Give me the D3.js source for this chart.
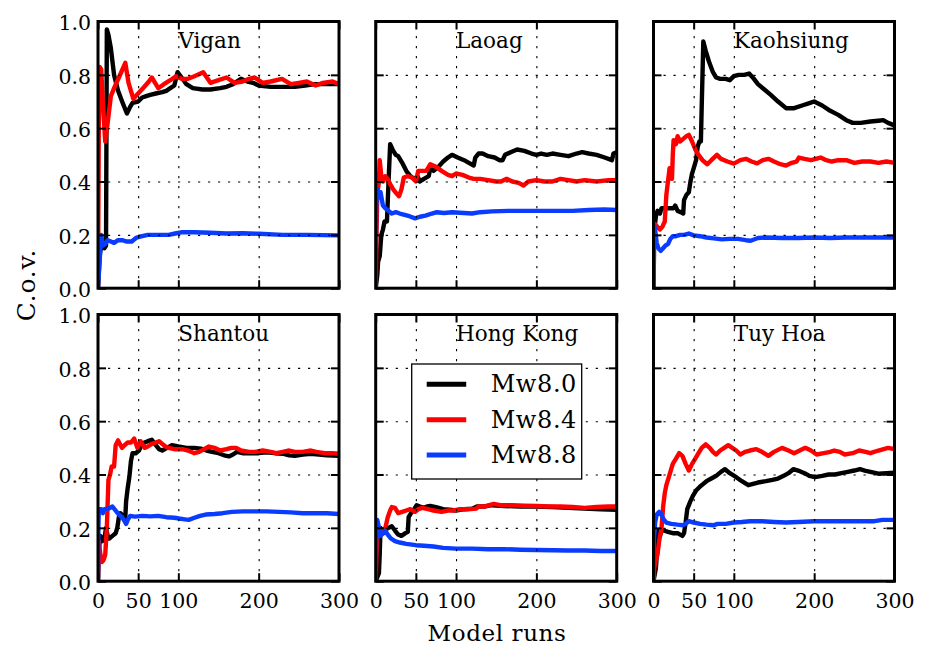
<!DOCTYPE html>
<html>
<head>
<meta charset="utf-8">
<script src="https://cdn.jsdelivr.net/npm/d3@7"></script>
<style>
  html, body { margin: 0; padding: 0; background: #fff; }
  svg { display: block; }
  text { font-family: "DejaVu Serif", serif; fill: #000; }
</style>
</head>
<body>
<svg id="chart" width="925" height="647"></svg>
<script>
// Stations, magnitudes and tick values
const stations = ["Vigan", "Laoag", "Kaohsiung", "Shantou", "Hong Kong", "Tuy Hoa"];
const magnitudes = ["Mw8.0", "Mw8.4", "Mw8.8"];
const xTicks = [0, 50, 100, 200, 300];
const yTicks = [0, 0.2, 0.4, 0.6, 0.8, 1.0];
const xGrid = [50, 100, 200];
const yGrid = [0.2, 0.4, 0.6, 0.8];

// Coefficient of variation vs. number of model runs: [run, c.o.v.]
const viganMw80 = [[0,0],[2,0.12],[4,0.16],[8,0.15],[10,0.16],[11,0.97],[13,0.95],[16,0.9],[20,0.8],[25,0.74],[30,0.7],[36,0.655],[40,0.68],[43,0.695],[50,0.7],[55,0.715],[60,0.72],[65,0.725],[72,0.73],[80,0.735],[85,0.74],[90,0.75],[95,0.76],[99,0.81],[104,0.79],[110,0.765],[118,0.75],[130,0.745],[140,0.745],[152,0.75],[160,0.755],[168,0.765],[178,0.785],[186,0.775],[193,0.77],[200,0.76],[215,0.755],[230,0.755],[245,0.755],[258,0.76],[270,0.765],[285,0.765],[300,0.765]];
const viganMw84 = [[0,0],[1,0.6],[2,0.83],[4,0.82],[6,0.7],[9,0.55],[12,0.62],[16,0.72],[20,0.75],[26,0.79],[34,0.845],[38,0.77],[44,0.71],[50,0.73],[56,0.75],[62,0.77],[67,0.79],[72,0.765],[75,0.75],[82,0.765],[90,0.78],[97,0.795],[104,0.785],[112,0.785],[120,0.795],[131,0.81],[140,0.77],[150,0.78],[160,0.79],[170,0.77],[180,0.775],[188,0.785],[195,0.79],[205,0.77],[215,0.775],[229,0.785],[240,0.765],[250,0.77],[260,0.775],[271,0.76],[280,0.77],[292,0.775],[300,0.765]];
const viganMw88 = [[0,0],[2,0.1],[4,0.2],[6,0.16],[9,0.165],[12,0.18],[16,0.175],[20,0.17],[25,0.18],[30,0.18],[36,0.175],[42,0.175],[48,0.19],[55,0.195],[62,0.2],[75,0.2],[88,0.2],[96,0.205],[105,0.21],[120,0.21],[140,0.208],[160,0.205],[180,0.206],[200,0.204],[230,0.2],[260,0.2],[280,0.199],[300,0.198]];

const laoagMw80 = [[0,0],[2,0.05],[3,0.1],[5,0.12],[7,0.2],[9,0.22],[11,0.25],[14,0.25],[16,0.4],[18,0.54],[21,0.52],[25,0.5],[28,0.495],[33,0.47],[38,0.44],[43,0.42],[48,0.41],[52,0.42],[55,0.4],[60,0.41],[66,0.42],[68,0.45],[72,0.44],[78,0.455],[84,0.475],[90,0.49],[95,0.5],[102,0.49],[110,0.48],[116,0.47],[122,0.46],[124,0.49],[128,0.505],[133,0.505],[140,0.495],[148,0.49],[154,0.48],[158,0.48],[161,0.5],[168,0.51],[176,0.52],[185,0.515],[194,0.505],[200,0.5],[206,0.505],[213,0.5],[220,0.505],[230,0.5],[240,0.495],[250,0.505],[257,0.51],[265,0.505],[275,0.5],[285,0.49],[294,0.48],[296,0.505],[300,0.51]];
const laoagMw84 = [[0,0],[1,0.2],[2,0.35],[4,0.4],[5,0.48],[7,0.42],[9,0.4],[12,0.42],[15,0.41],[18,0.39],[22,0.37],[26,0.355],[29,0.345],[32,0.37],[35,0.415],[40,0.42],[45,0.415],[50,0.4],[53,0.44],[58,0.44],[63,0.44],[68,0.465],[75,0.455],[82,0.44],[90,0.425],[95,0.42],[100,0.43],[108,0.425],[116,0.415],[122,0.41],[130,0.41],[140,0.405],[150,0.4],[156,0.4],[163,0.41],[170,0.4],[178,0.395],[184,0.385],[190,0.4],[200,0.405],[210,0.4],[220,0.4],[230,0.41],[240,0.405],[250,0.4],[260,0.405],[275,0.4],[290,0.405],[300,0.405]];
const laoagMw88 = [[0,0],[0.5,0.3],[2,0.37],[4,0.34],[6,0.36],[9,0.31],[12,0.3],[16,0.29],[20,0.28],[25,0.285],[30,0.28],[36,0.275],[42,0.27],[49,0.262],[55,0.268],[62,0.272],[70,0.28],[76,0.285],[85,0.282],[95,0.285],[110,0.282],[120,0.28],[130,0.285],[145,0.288],[165,0.29],[185,0.29],[205,0.29],[225,0.29],[245,0.29],[265,0.293],[285,0.295],[300,0.293]];

const kaohsiungMw80 = [[0,0],[1,0.22],[3,0.27],[5,0.29],[8,0.28],[10,0.3],[15,0.3],[20,0.3],[25,0.3],[27,0.31],[30,0.29],[34,0.285],[37,0.28],[38,0.33],[41,0.35],[44,0.36],[46,0.4],[48,0.43],[51,0.46],[53,0.48],[55,0.53],[57,0.55],[59,0.55],[60,0.68],[61,0.8],[62,0.925],[65,0.89],[69,0.85],[74,0.81],[78,0.79],[83,0.785],[90,0.785],[95,0.78],[100,0.795],[106,0.8],[113,0.8],[119,0.805],[125,0.785],[130,0.765],[138,0.745],[146,0.725],[155,0.7],[165,0.675],[175,0.675],[185,0.685],[195,0.695],[200,0.7],[210,0.685],[220,0.665],[230,0.65],[240,0.63],[248,0.62],[258,0.62],[270,0.625],[280,0.628],[286,0.63],[292,0.62],[300,0.61]];
const kaohsiungMw84 = [[0,0],[0.5,0.22],[2,0.24],[5,0.23],[8,0.22],[11,0.23],[14,0.25],[16,0.35],[18,0.4],[20,0.45],[22,0.42],[23,0.41],[24,0.5],[25,0.555],[28,0.54],[30,0.57],[33,0.55],[37,0.56],[41,0.57],[44,0.575],[48,0.55],[52,0.52],[56,0.5],[61,0.48],[67,0.465],[72,0.48],[79,0.5],[84,0.485],[92,0.475],[100,0.467],[108,0.48],[115,0.485],[122,0.475],[129,0.468],[136,0.48],[143,0.485],[150,0.475],[158,0.465],[165,0.46],[172,0.47],[178,0.475],[181,0.49],[188,0.485],[196,0.48],[202,0.485],[208,0.49],[215,0.48],[222,0.475],[230,0.48],[240,0.48],[250,0.47],[260,0.475],[270,0.475],[280,0.47],[290,0.475],[300,0.47]];
const kaohsiungMw88 = [[0,0],[0.5,0.24],[2,0.22],[4,0.17],[6,0.15],[9,0.14],[12,0.15],[15,0.16],[18,0.165],[21,0.185],[24,0.195],[28,0.195],[33,0.2],[38,0.2],[44,0.205],[50,0.198],[58,0.195],[66,0.19],[75,0.187],[85,0.183],[95,0.185],[105,0.185],[115,0.18],[121,0.178],[130,0.188],[140,0.19],[160,0.188],[180,0.188],[200,0.19],[220,0.188],[240,0.19],[260,0.19],[280,0.19],[300,0.19]];

const shantouMw80 = [[0,0],[1,0.12],[3,0.17],[5,0.15],[8,0.16],[10,0.2],[12,0.17],[14,0.16],[18,0.17],[22,0.18],[24,0.2],[26,0.24],[28,0.255],[31,0.245],[34,0.24],[35,0.3],[37,0.35],[39,0.39],[41,0.45],[43,0.48],[47,0.48],[51,0.49],[54,0.51],[58,0.52],[62,0.525],[67,0.53],[72,0.51],[76,0.495],[80,0.49],[86,0.5],[92,0.51],[100,0.505],[110,0.5],[120,0.5],[128,0.497],[135,0.49],[142,0.485],[150,0.48],[157,0.472],[163,0.468],[168,0.475],[173,0.485],[180,0.48],[190,0.48],[200,0.48],[210,0.483],[220,0.48],[230,0.478],[238,0.472],[245,0.47],[255,0.475],[265,0.478],[275,0.475],[285,0.472],[300,0.47]];
const shantouMw84 = [[0,0],[1,0.15],[3,0.1],[5,0.072],[7,0.08],[9,0.1],[11,0.2],[13,0.38],[15,0.4],[17,0.43],[20,0.43],[22,0.51],[25,0.528],[28,0.51],[30,0.5],[33,0.51],[37,0.52],[41,0.52],[45,0.535],[49,0.5],[53,0.525],[58,0.5],[62,0.505],[67,0.515],[72,0.52],[76,0.525],[80,0.515],[84,0.505],[88,0.5],[95,0.495],[105,0.495],[112,0.49],[120,0.48],[126,0.485],[132,0.495],[138,0.505],[145,0.5],[152,0.49],[160,0.495],[166,0.5],[172,0.5],[178,0.49],[188,0.485],[196,0.485],[205,0.49],[215,0.485],[222,0.48],[230,0.485],[238,0.49],[245,0.485],[255,0.485],[265,0.49],[272,0.485],[282,0.48],[292,0.48],[300,0.478]];
const shantouMw88 = [[0,0],[0.5,0.2],[1,0.27],[4,0.27],[6,0.255],[8,0.27],[12,0.272],[15,0.275],[18,0.28],[22,0.265],[26,0.25],[30,0.24],[33,0.225],[35,0.215],[37,0.23],[40,0.245],[46,0.242],[55,0.245],[65,0.243],[75,0.245],[85,0.24],[95,0.238],[101,0.235],[108,0.232],[113,0.23],[120,0.238],[127,0.245],[134,0.25],[145,0.252],[155,0.255],[167,0.26],[180,0.262],[195,0.262],[210,0.262],[225,0.26],[240,0.258],[255,0.255],[270,0.255],[285,0.255],[300,0.252]];

const hongKongMw80 = [[0,0],[4,0.03],[5,0.1],[6,0.2],[8,0.19],[10,0.18],[13,0.195],[16,0.2],[20,0.206],[24,0.19],[28,0.175],[32,0.17],[37,0.18],[40,0.185],[41,0.24],[44,0.255],[48,0.27],[51,0.285],[55,0.28],[60,0.275],[64,0.28],[68,0.282],[75,0.278],[84,0.27],[92,0.268],[100,0.265],[110,0.27],[120,0.272],[126,0.28],[135,0.28],[145,0.285],[160,0.282],[180,0.28],[200,0.28],[220,0.278],[240,0.275],[260,0.272],[280,0.27],[300,0.268]];
const hongKongMw84 = [[0,0],[1,0.1],[3,0.21],[5,0.17],[8,0.19],[12,0.2],[15,0.24],[18,0.265],[20,0.278],[24,0.275],[28,0.255],[33,0.26],[38,0.265],[43,0.27],[49,0.26],[53,0.27],[58,0.275],[65,0.27],[72,0.265],[82,0.26],[90,0.265],[97,0.265],[105,0.27],[115,0.27],[125,0.272],[128,0.28],[135,0.28],[147,0.29],[155,0.285],[170,0.285],[185,0.283],[200,0.282],[215,0.28],[230,0.28],[245,0.278],[260,0.275],[275,0.278],[290,0.28],[300,0.28]];
const hongKongMw88 = [[0,0],[0.5,0.15],[2,0.23],[4,0.2],[6,0.17],[9,0.18],[12,0.19],[15,0.175],[19,0.16],[24,0.15],[30,0.145],[38,0.14],[50,0.135],[60,0.133],[72,0.13],[84,0.125],[100,0.122],[120,0.122],[140,0.12],[160,0.12],[180,0.118],[200,0.117],[220,0.116],[240,0.115],[260,0.115],[280,0.113],[300,0.113]];

const tuyHoaMw80 = [[0,0],[3,0.05],[5,0.14],[6,0.19],[8,0.17],[10,0.19],[13,0.19],[18,0.185],[24,0.18],[30,0.18],[36,0.17],[38,0.18],[40,0.22],[42,0.27],[46,0.3],[49,0.32],[53,0.34],[58,0.355],[62,0.365],[66,0.375],[72,0.385],[78,0.395],[84,0.41],[89,0.42],[95,0.405],[103,0.39],[110,0.375],[118,0.36],[124,0.365],[130,0.37],[140,0.375],[148,0.38],[155,0.385],[162,0.395],[168,0.405],[174,0.42],[180,0.415],[188,0.405],[194,0.395],[201,0.39],[210,0.395],[218,0.4],[226,0.4],[234,0.405],[242,0.41],[250,0.415],[257,0.42],[263,0.415],[270,0.41],[280,0.403],[290,0.405],[300,0.407]];
const tuyHoaMw84 = [[0,0],[1,0.05],[3,0.08],[5,0.1],[7,0.15],[10,0.2],[12,0.28],[14,0.33],[16,0.36],[20,0.4],[24,0.44],[28,0.46],[32,0.48],[36,0.47],[40,0.44],[44,0.415],[48,0.44],[52,0.46],[56,0.48],[60,0.5],[65,0.513],[70,0.5],[74,0.485],[78,0.475],[83,0.49],[88,0.5],[93,0.51],[98,0.5],[103,0.49],[108,0.475],[114,0.485],[120,0.49],[128,0.495],[135,0.485],[143,0.47],[150,0.485],[160,0.5],[168,0.49],[175,0.48],[182,0.49],[189,0.5],[196,0.49],[203,0.475],[212,0.48],[220,0.485],[225,0.49],[232,0.485],[238,0.475],[248,0.48],[256,0.49],[264,0.485],[270,0.48],[280,0.49],[292,0.5],[300,0.495]];
const tuyHoaMw88 = [[0,0],[0.5,0.15],[2,0.22],[4,0.25],[7,0.26],[9,0.255],[12,0.235],[16,0.22],[22,0.215],[30,0.212],[37,0.21],[40,0.215],[44,0.225],[50,0.22],[58,0.215],[66,0.212],[75,0.21],[80,0.215],[90,0.215],[100,0.22],[110,0.222],[120,0.225],[135,0.225],[150,0.222],[165,0.22],[180,0.222],[200,0.225],[220,0.225],[240,0.225],[260,0.225],[275,0.225],[285,0.23],[300,0.23]];

// Series per station, in magnitude order (drawn black, red, blue)
const seriesByStation = {
  "Vigan": [viganMw80, viganMw84, viganMw88],
  "Laoag": [laoagMw80, laoagMw84, laoagMw88],
  "Kaohsiung": [kaohsiungMw80, kaohsiungMw84, kaohsiungMw88],
  "Shantou": [shantouMw80, shantouMw84, shantouMw88],
  "Hong Kong": [hongKongMw80, hongKongMw84, hongKongMw88],
  "Tuy Hoa": [tuyHoaMw80, tuyHoaMw84, tuyHoaMw88]
};

// ---- layout and styling ----
const colors = ["#000000", "#ff0000", "#0a3cff"];
const colLeft = [98, 375.7, 653.5];
const rowTop = [21.5, 314.5];
const pw = 241, ph = 266.7;
const lineW = 4.4;

const svg = d3.select("#chart");
const x = d3.scaleLinear().domain([0, 300]).range([0, pw]);
const y = d3.scaleLinear().domain([0, 1]).range([ph, 0]);
const line = d3.line().x(d => x(d[0])).y(d => y(d[1]));

const defs = svg.append("defs");
defs.append("clipPath").attr("id", "panel-clip")
  .append("rect").attr("x", 0).attr("y", 0).attr("width", pw).attr("height", ph);

stations.forEach((name, i) => {
  const row = Math.floor(i / 3), col = i % 3;
  const g = svg.append("g").attr("transform", `translate(${colLeft[col]},${rowTop[row]})`);

  // data curves
  const lines = g.append("g").attr("clip-path", "url(#panel-clip)");
  seriesByStation[name].forEach((pts, k) => {
    lines.append("path")
      .attr("d", line(pts))
      .attr("fill", "none")
      .attr("stroke", colors[k])
      .attr("stroke-width", lineW)
      .attr("stroke-linejoin", "round")
      .attr("stroke-linecap", "butt");
  });

  // dotted grid
  const gridX = g.append("g").attr("transform", `translate(0,${ph})`)
    .call(d3.axisBottom(x).tickValues(xGrid).tickSize(-ph).tickFormat(""));
  const gridY = g.append("g")
    .call(d3.axisLeft(y).tickValues(yGrid).tickSize(-pw).tickFormat(""));
  [gridX, gridY].forEach(a => {
    a.select(".domain").remove();
    a.selectAll("line").attr("stroke", "#000").attr("stroke-width", 1.1)
      .attr("stroke-dasharray", "2.2,7.8");
  });

  // inward ticks on all four sides
  const bottom = g.append("g").attr("transform", `translate(0,${ph})`)
    .call(d3.axisBottom(x).tickValues(xTicks).tickSize(-8).tickPadding(12.4)
      .tickFormat(row === 1 ? d3.format("d") : ""));
  const top = g.append("g")
    .call(d3.axisTop(x).tickValues(xTicks).tickSize(-8).tickFormat(""));
  const left = g.append("g")
    .call(d3.axisLeft(y).tickValues(yTicks).tickSize(-8).tickPadding(7)
      .tickFormat(col === 0 ? d3.format(".1f") : ""));
  const right = g.append("g").attr("transform", `translate(${pw},0)`)
    .call(d3.axisRight(y).tickValues(yTicks).tickSize(-8).tickFormat(""));
  [bottom, top, left, right].forEach(a => {
    a.select(".domain").remove();
    a.selectAll("line").attr("stroke", "#000").attr("stroke-width", 2);
    a.selectAll("text").attr("font-family", "DejaVu Serif").attr("font-size", 20.5).attr("fill", "#000");
  });
  left.selectAll("text").attr("dy", "0.4em");

  // frame
  g.append("rect").attr("x", 0).attr("y", 0).attr("width", pw).attr("height", ph)
    .attr("fill", "none").attr("stroke", "#000").attr("stroke-width", 3);

  // station name at (100, 0.9)
  g.append("text").attr("x", x(100)).attr("y", y(0.9))
    .attr("font-size", 21.5).text(name);

  // legend in the Hong Kong panel
  if (name === "Hong Kong") {
    const lg = g.append("g").attr("transform", "translate(36,49.5)");
    lg.append("rect").attr("width", 170).attr("height", 115)
      .attr("fill", "#fff").attr("stroke", "#000").attr("stroke-width", 1.3);
    magnitudes.forEach((m, k) => {
      const yy = 20.3 + k * 35.4;
      lg.append("line").attr("x1", 15).attr("x2", 54.5).attr("y1", yy).attr("y2", yy)
        .attr("stroke", colors[k]).attr("stroke-width", 5);
      lg.append("text").attr("x", 79).attr("y", yy + 8)
        .attr("font-size", 24).attr("letter-spacing", "0.6px").text(m);
    });
  }
});

// axis titles
svg.append("text").attr("x", 497).attr("y", 640.5).attr("text-anchor", "middle")
  .attr("font-size", 23).attr("letter-spacing", "0.6px").text("Model runs");
svg.append("text").attr("transform", "translate(35,285) rotate(-90)")
  .attr("text-anchor", "middle").attr("font-size", 25).attr("letter-spacing", "0.8px").text("C.o.v.");
</script>
</body>
</html>
